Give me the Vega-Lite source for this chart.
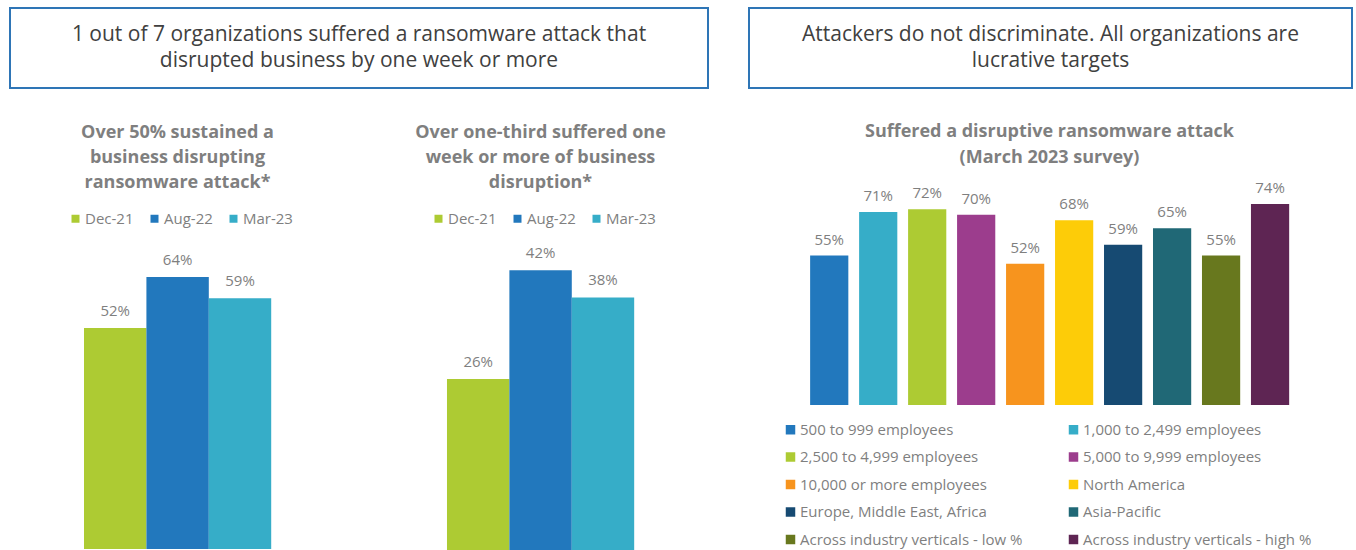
{
  "$schema": "https://vega.github.io/schema/vega-lite/v6.json",
  "padding": {"left": 9, "top": 7, "right": 0, "bottom": 0},
  "background": "white",
  "config": {
    "view": {"stroke": null},
    "font": "Open Sans",
    "title": {"font": "Open Sans", "fontWeight": "bold", "color": "#7f7f7f", "fontSize": 18, "lineHeight": 25, "anchor": "middle"},
    "legend": {"labelFont": "Open Sans", "labelFontSize": 15, "labelColor": "#7f7f7f", "symbolType": "square", "symbolSize": 64, "symbolStrokeWidth": 0, "labelOffset": 2, "padding": 0, "title": null}
  },
  "spacing": 39,
  "hconcat": [
    {
      "spacing": 35,
      "vconcat": [
        {
          "width": 698,
          "height": 80,
          "view": {"stroke": "#2E75B6", "strokeWidth": 2},
          "data": {"values": [{"t": "1 out of 7 organizations suffered a ransomware attack that\ndisrupted business by one week or more"}]},
          "mark": {"type": "text", "lineBreak": "\n", "fontSize": 21, "color": "#404040", "lineHeight": 26, "baseline": "middle", "align": "center", "dy": -13},
          "encoding": {"text": {"field": "t", "type": "nominal"}}
        },
        {
          "spacing": 37,
          "hconcat": [
            {
              "width": 312,
              "height": 306,
              "title": {"text": ["Over 50% sustained a", "business disrupting", "ransomware attack*"], "dx": 11.5, "offset": 19},
              "data": {"values": [
                {"period": "Dec-21", "pct": 0.52},
                {"period": "Aug-22", "pct": 0.64},
                {"period": "Mar-23", "pct": 0.59}
              ]},
              "encoding": {
                "x": {"field": "period", "type": "nominal", "sort": null, "axis": null, "scale": {"paddingInner": 0, "paddingOuter": 1, "align": 0.593}},
                "y": {"field": "pct", "type": "quantitative", "axis": null, "scale": {"domain": [0, 0.72]}}
              },
              "layer": [
                {
                  "mark": {"type": "bar"},
                  "encoding": {
                    "color": {"field": "period", "type": "nominal", "sort": null,
                      "scale": {"domain": ["Dec-21", "Aug-22", "Mar-23"], "range": ["#ADCB33", "#2278BD", "#36ADC8"]},
                      "legend": {"orient": "none", "direction": "horizontal", "legendX": 58, "legendY": -32, "columnPadding": 13}}
                  }
                },
                {
                  "mark": {"type": "text", "baseline": "middle", "dy": -17, "fontSize": 15, "color": "#7f7f7f"},
                  "encoding": {"text": {"field": "pct", "type": "quantitative", "format": ".0%"}}
                }
              ]
            },
            {
              "width": 312,
              "height": 313,
              "title": {"text": ["Over one-third suffered one", "week or more of business", "disruption*"], "dx": 25.5, "offset": 19},
              "data": {"values": [
                {"period": "Dec-21", "pct": 0.26},
                {"period": "Aug-22", "pct": 0.42},
                {"period": "Mar-23", "pct": 0.38}
              ]},
              "encoding": {
                "x": {"field": "period", "type": "nominal", "sort": null, "axis": null, "scale": {"paddingInner": 0, "paddingOuter": 1, "align": 0.705}},
                "y": {"field": "pct", "type": "quantitative", "axis": null, "scale": {"domain": [0, 0.46]}}
              },
              "layer": [
                {
                  "mark": {"type": "bar"},
                  "encoding": {
                    "color": {"field": "period", "type": "nominal", "sort": null,
                      "scale": {"domain": ["Dec-21", "Aug-22", "Mar-23"], "range": ["#ADCB33", "#2278BD", "#36ADC8"]},
                      "legend": {"orient": "none", "direction": "horizontal", "legendX": 72, "legendY": -32, "columnPadding": 13}}
                  }
                },
                {
                  "mark": {"type": "text", "baseline": "middle", "dy": -17, "fontSize": 15, "color": "#7f7f7f"},
                  "encoding": {"text": {"field": "pct", "type": "quantitative", "format": ".0%"}}
                }
              ]
            }
          ],
          "resolve": {"scale": {"x": "independent", "y": "independent", "color": "independent"}, "legend": {"color": "independent"}}
        }
      ]
    },
    {
      "spacing": 34,
      "vconcat": [
        {
          "width": 603,
          "height": 80,
          "view": {"stroke": "#2E75B6", "strokeWidth": 2},
          "data": {"values": [{"t": "Attackers do not discriminate. All organizations are\nlucrative targets"}]},
          "mark": {"type": "text", "lineBreak": "\n", "fontSize": 21, "color": "#404040", "lineHeight": 26, "baseline": "middle", "align": "center", "dy": -13},
          "encoding": {"text": {"field": "t", "type": "nominal"}}
        },
        {
          "width": 577,
          "height": 231,
          "title": {"text": ["Suffered a disruptive ransomware attack", "(March 2023 survey)"], "lineHeight": 26, "offset": 7, "dx": 12},
          "data": {"values": [
            {"group": "500 to 999 employees", "pct": 0.55},
            {"group": "1,000 to 2,499 employees", "pct": 0.71},
            {"group": "2,500 to 4,999 employees", "pct": 0.72},
            {"group": "5,000 to 9,999 employees", "pct": 0.70},
            {"group": "10,000 or more employees", "pct": 0.52},
            {"group": "North America", "pct": 0.68},
            {"group": "Europe, Middle East, Africa", "pct": 0.59},
            {"group": "Asia-Pacific", "pct": 0.65},
            {"group": "Across industry verticals - low %", "pct": 0.55},
            {"group": "Across industry verticals - high %", "pct": 0.74}
          ]},
          "encoding": {
            "x": {"field": "group", "type": "nominal", "sort": null, "axis": null, "scale": {"paddingInner": 0.22, "paddingOuter": 1, "align": 0.624}},
            "y": {"field": "pct", "type": "quantitative", "axis": null, "scale": {"domain": [0, 0.85]}}
          },
          "layer": [
            {
              "mark": {"type": "bar"},
              "encoding": {
                "color": {"field": "group", "type": "nominal", "sort": null,
                  "scale": {
                    "domain": ["500 to 999 employees", "1,000 to 2,499 employees", "2,500 to 4,999 employees", "5,000 to 9,999 employees", "10,000 or more employees", "North America", "Europe, Middle East, Africa", "Asia-Pacific", "Across industry verticals - low %", "Across industry verticals - high %"],
                    "range": ["#2278BD", "#36ADC8", "#ADCB33", "#9C3D8D", "#F7941E", "#FDCC08", "#164A72", "#206876", "#68781E", "#5E2553"]
                  },
                  "legend": {"orient": "none", "direction": "horizontal", "columns": 2, "legendX": 34, "legendY": 414, "columnPadding": 43, "rowPadding": 11.5, "labelLimit": 400, "symbolSize": 90}}
              }
            },
            {
              "mark": {"type": "text", "baseline": "middle", "dy": -16, "fontSize": 15, "color": "#7f7f7f"},
              "encoding": {"text": {"field": "pct", "type": "quantitative", "format": ".0%"}}
            }
          ]
        }
      ]
    }
  ],
  "resolve": {"scale": {"x": "independent", "y": "independent", "color": "independent"}, "legend": {"color": "independent"}}
}
